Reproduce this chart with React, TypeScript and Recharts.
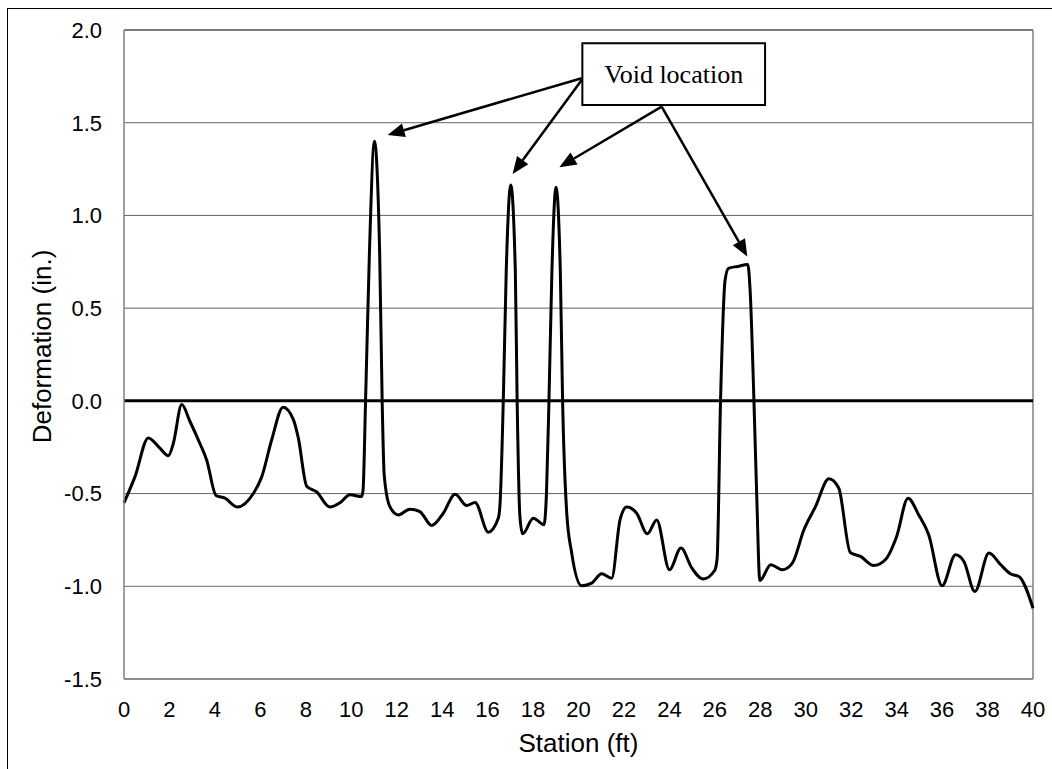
import React from "react";
import {
  LineChart,
  Line,
  XAxis,
  YAxis,
  CartesianGrid,
  ReferenceLine,
  ReferenceArea,
} from "recharts";

// station (ft)
const stations = [
  0, 0.48, 1.07, 1.58, 1.95, 2.17, 2.54, 2.9, 3.34, 3.64, 4.05, 4.44, 4.99,
  5.69, 6.06, 6.5, 7.0, 7.45, 7.67, 8.04, 8.47, 9.06, 9.5, 9.94, 10.46, 10.52,
  10.63, 10.8, 11.02, 11.25, 11.36, 11.45, 11.7, 12.07, 12.58, 13.02, 13.54,
  14.05, 14.57, 15.08, 15.45, 16.03, 16.47, 16.55, 16.69, 16.82, 17.02, 17.22,
  17.3, 17.42, 17.54, 18.01, 18.48, 18.59, 18.7, 18.83, 19.01, 19.2, 19.3,
  19.48, 19.7, 20.14, 20.58, 21.02, 21.46, 21.83, 22.12, 22.56, 23.03, 23.44,
  24.0, 24.51, 24.98, 25.49, 25.99, 26.1, 26.25, 26.45, 26.6, 27.0, 27.45,
  27.55, 27.72, 27.84, 27.98, 28.46, 28.97, 29.41, 29.92, 30.43, 31.02, 31.45,
  31.96, 32.41, 32.99, 33.5, 34.0, 34.5, 34.97, 35.41, 36.0, 36.59, 36.96,
  37.44, 38.06, 38.58, 39.02, 39.38, 40.0,
];

// deformation (in.)
const deformation = [
  -0.55, -0.41, -0.2, -0.255, -0.296, -0.23, -0.02, -0.11, -0.23, -0.32, -0.51,
  -0.525, -0.573, -0.5, -0.41, -0.21, -0.034, -0.1, -0.2, -0.46, -0.49, -0.573,
  -0.55, -0.507, -0.516, -0.48, 0, 0.8, 1.4, 0.8, 0, -0.4, -0.57, -0.615,
  -0.584, -0.597, -0.672, -0.606, -0.503, -0.564, -0.548, -0.708, -0.633,
  -0.55, 0, 0.7, 1.164, 0.7, 0, -0.62, -0.717, -0.633, -0.668, -0.5, 0, 0.7,
  1.152, 0.7, 0, -0.6, -0.82, -0.997, -0.983, -0.933, -0.956, -0.64, -0.573,
  -0.606, -0.717, -0.642, -0.911, -0.794, -0.9, -0.961, -0.915, -0.85, 0, 0.65,
  0.715, 0.725, 0.735, 0.6, 0, -0.5, -0.969, -0.884, -0.911, -0.875, -0.695,
  -0.57, -0.42, -0.47, -0.818, -0.839, -0.888, -0.857, -0.731, -0.525, -0.615,
  -0.722, -0.997, -0.83, -0.866, -1.028, -0.821, -0.884, -0.934, -0.947,
  -1.118,
];

const xTicks = [
  0, 2, 4, 6, 8, 10, 12, 14, 16, 18, 20, 22, 24, 26, 28, 30, 32, 34, 36, 38, 40,
];
const yTicks = [-1.5, -1.0, -0.5, 0.0, 0.5, 1.0, 1.5, 2.0];

// annotation: callout box and arrow ends, in data units
const calloutText = "Void location";
const calloutBox = { x1: 20.17, x2: 28.21, y1: 1.596, y2: 1.928 };
const arrows = [
  { from: { x: 20.14, y: 1.74 }, to: { x: 11.6, y: 1.434 } },
  { from: { x: 20.14, y: 1.73 }, to: { x: 17.1, y: 1.224 } },
  { from: { x: 23.66, y: 1.587 }, to: { x: 19.16, y: 1.26 } },
  { from: { x: 23.66, y: 1.587 }, to: { x: 27.43, y: 0.778 } },
];

const data = stations.map((s, i) => ({ station: s, deformation: deformation[i] }));

const SANS = "'Liberation Sans', Arial, sans-serif";
const SERIF = "'Liberation Serif', 'Times New Roman', serif";

const Arrow = (props: any) => {
  const { x1, y1, x2, y2 } = props;
  const ang = Math.atan2(y2 - y1, x2 - x1);
  const len = 17;
  const half = 7;
  const bx = x2 - len * Math.cos(ang);
  const by = y2 - len * Math.sin(ang);
  const px = -Math.sin(ang) * half;
  const py = Math.cos(ang) * half;
  return (
    <g>
      <line x1={x1} y1={y1} x2={bx} y2={by} stroke="#000" strokeWidth={2.5} />
      <polygon
        points={`${x2},${y2} ${bx + px},${by + py} ${bx - px},${by - py}`}
        fill="#000"
      />
    </g>
  );
};

export default function App() {
  return (
    <div
      style={{
        position: "fixed",
        left: 0,
        top: 0,
        width: 1052,
        height: 769,
        overflow: "hidden",
        background: "#fff",
      }}
    >
      <div
        style={{
          position: "absolute",
          left: 7,
          top: 8,
          width: 1200,
          height: 900,
          borderLeft: "1px solid #000",
          borderTop: "1px solid #000",
        }}
      />
      <div style={{ position: "absolute", left: 0, top: 0 }}>
        <LineChart
          width={1052}
          height={769}
          data={data}
          margin={{ top: 30, right: 19, bottom: 0, left: 0 }}
        >
          <CartesianGrid vertical={false} stroke="#666" strokeWidth={1} />
          <XAxis
            dataKey="station"
            type="number"
            domain={[0, 40]}
            ticks={xTicks}
            interval={0}
            height={90}
            tickLine={false}
            tickSize={0}
            tickMargin={22}
            axisLine={{ stroke: "#808080", strokeWidth: 1.5 }}
            tick={{ fill: "#000", fontSize: 22, fontFamily: SANS }}
            label={{
              value: "Station (ft)",
              position: "insideBottom",
              offset: 17,
              fill: "#000",
              fontSize: 26,
              fontFamily: SANS,
            }}
          />
          <YAxis
            type="number"
            domain={[-1.5, 2]}
            ticks={yTicks}
            interval={0}
            width={124}
            tickLine={false}
            tickSize={0}
            tickMargin={22}
            axisLine={{ stroke: "#808080", strokeWidth: 1.5 }}
            tickFormatter={(v: number) => v.toFixed(1)}
            tick={{ fill: "#000", fontSize: 22, fontFamily: SANS }}
            label={(p: any) => {
              const vb = p.viewBox;
              const cx = vb.x + 42;
              const cy = vb.y + vb.height / 2 - 8;
              return (
                <text
                  x={cx}
                  y={cy}
                  transform={`rotate(-90 ${cx} ${cy})`}
                  textAnchor="middle"
                  dominantBaseline="central"
                  fill="#000"
                  fontSize={26}
                  fontFamily={SANS}
                >
                  Deformation (in.)
                </text>
              );
            }}
          />
          <ReferenceLine y={2} stroke="#444" strokeWidth={1} />
          <ReferenceLine x={40} stroke="#808080" strokeWidth={1.5} />
          <ReferenceLine y={0} stroke="#000" strokeWidth={3} />
          <Line
            type="monotone"
            dataKey="deformation"
            stroke="#000"
            strokeWidth={3}
            dot={false}
            activeDot={false}
            isAnimationActive={false}
          />
          {arrows.map((a, i) => (
            <ReferenceLine
              key={i}
              segment={[a.from, a.to]}
              ifOverflow="visible"
              shape={(p: any) => <Arrow {...p} />}
            />
          ))}
          <ReferenceArea
            x1={calloutBox.x1}
            x2={calloutBox.x2}
            y1={calloutBox.y1}
            y2={calloutBox.y2}
            fill="#fff"
            fillOpacity={1}
            stroke="#000"
            strokeWidth={2}
            ifOverflow="visible"
            label={(p: any) => {
              const vb = p.viewBox;
              return (
                <text
                  x={vb.x + vb.width / 2}
                  y={vb.y + vb.height / 2}
                  textAnchor="middle"
                  dominantBaseline="central"
                  fill="#000"
                  fontSize={26}
                  fontFamily={SERIF}
                >
                  {calloutText}
                </text>
              );
            }}
          />
        </LineChart>
      </div>
    </div>
  );
}
